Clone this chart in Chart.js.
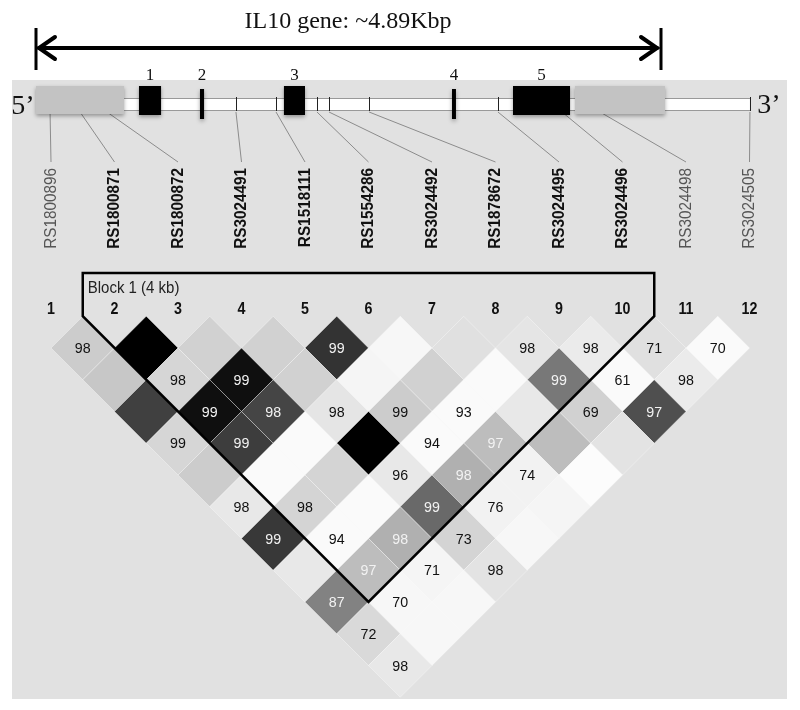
<!DOCTYPE html>
<html><head><meta charset="utf-8">
<script src="https://cdn.jsdelivr.net/npm/chart.js@4/dist/chart.umd.min.js"></script>
<style>html,body{margin:0;padding:0;background:#fff}#wrap{width:800px;height:710px;position:relative}</style>
</head><body><div id="wrap"><canvas id="c"></canvas></div>
<script>
// ---------- DATA ----------
const geneTitle = 'IL10 gene: ~4.89Kbp';
const geneLengthBp = 4890;
const transcriptEndBp = 5595;
const snpNames = ['RS1800896','RS1800871','RS1800872','RS3024491','RS1518111','RS1554286',
                  'RS3024492','RS1878672','RS3024495','RS3024496','RS3024498','RS3024505'];
const markerLabels = ['1','2','3','4','5','6','7','8','9','10','11','12'];
const snpGenePos = [110, 345, 556, 1567, 1881, 2202, 2296, 2610, 3620, 4122, 4420, 5595]; // bp
const exonLabels = ['1','2','3','4','5'];
const exonStart = [807, 1285, 1943, 3260, 3738];
const exonEnd   = [980, 1317, 2108, 3291, 4185];
const utrStart = [0, 4224];
const utrEnd   = [690, 4929];
const blockStart = 2, blockEnd = 10;
const blockLabel = 'Block 1 (4 kb)';
// D' values, row k holds pairs (i, i+k+1) for i = 1..
const ldDprime = [
  [98, null, null, null, 99, null, null, 98, 98, 71, 70],
  [null, 98, 99, null, null, null, null, 99, 61, 98],
  [null, 99, 98, 98, 99, 93, null, 69, 97],
  [99, 99, null, null, 94, 97, null, null],
  [null, null, null, 96, 98, 74, null],
  [98, 98, null, 99, 76, null],
  [99, 94, 98, 73, null],
  [null, 97, 71, 98],
  [87, 70, null],
  [72, null],
  [98]
];
// LD shading level per pair (0 = black, 100 = white), same layout
const ldShade = [
  [80, 0, 82, 82, 20, 97, 88, 90, 92, 88, 98],
  [78, 84, 6, 82, 96, 82, 98, 47, 98, 92],
  [25, 6, 27, 90, 80, 98, 91, 82, 31],
  [84, 24, 98, 0, 98, 74, 74, 89],
  [80, 98, 83, 91, 69, 95, 99],
  [91, 83, 98, 41, 95, 96],
  [22, 98, 69, 83, 97],
  [91, 74, 96, 89],
  [51, 97, 97],
  [85, 97],
  [91]
];

// ---------- BUILD ----------
const pts = [], fills = [], labels = [], tcols = [];
ldDprime.forEach((row, k) => {
  const d = k + 1;
  row.forEach((v, idx) => {
    const i = idx + 1, j = i + d;
    pts.push({x: (i + j) / 2, y: d});
    const g = Math.round(ldShade[k][idx] * 2.55);
    fills.push(`rgb(${g},${g},${g})`);
    labels.push(v == null ? '' : String(v));
    tcols.push(ldShade[k][idx] < 78 ? '#f2f2f2' : '#111');
  });
});

const SANS = '"Liberation Sans", Arial, sans-serif';
const SERIF = '"Liberation Serif", "Times New Roman", serif';

function txt(ctx, s, x, y, font, color, align, sx, sy, rot) {
  ctx.save();
  ctx.translate(x, y);
  if (rot) ctx.rotate(rot);
  ctx.scale(sx || 1, sy || 1);
  ctx.font = font; ctx.fillStyle = color;
  ctx.textAlign = align || 'center'; ctx.textBaseline = 'middle';
  ctx.fillText(s, 0, 0);
  ctx.restore();
}

const decor = {
  id: 'decor',
  beforeDatasetsDraw(chart) {
    const ctx = chart.ctx, X = chart.scales.x, G = chart.scales.gx;
    ctx.save();
    ctx.fillStyle = '#fff'; ctx.fillRect(0, 0, chart.width, chart.height);
    ctx.fillStyle = '#e1e1e1'; ctx.fillRect(12, 80, 775, 619);

    // title and arrow
    const a0 = G.getPixelForValue(0), a1 = G.getPixelForValue(geneLengthBp);
    txt(ctx, geneTitle, (a0 + a1) / 2, 22, '24px ' + SERIF, '#111');
    ctx.strokeStyle = '#000'; ctx.lineCap = 'round';
    ctx.lineWidth = 4;
    ctx.beginPath(); ctx.moveTo(a0 + 3, 48); ctx.lineTo(a1 - 3, 48); ctx.stroke();
    ctx.beginPath();
    ctx.moveTo(a0 + 19, 37); ctx.lineTo(a0 + 3, 48); ctx.lineTo(a0 + 19, 59);
    ctx.moveTo(a1 - 19, 37); ctx.lineTo(a1 - 3, 48); ctx.lineTo(a1 - 19, 59);
    ctx.stroke();
    ctx.lineWidth = 3; ctx.lineCap = 'butt';
    ctx.beginPath(); ctx.moveTo(a0, 28); ctx.lineTo(a0, 70); ctx.moveTo(a1 + 1, 28); ctx.lineTo(a1 + 1, 70); ctx.stroke();

    // gene bar
    const gEnd = G.getPixelForValue(transcriptEndBp);
    ctx.fillStyle = '#fff'; ctx.fillRect(a0, 98, gEnd - a0, 12);
    ctx.strokeStyle = '#999'; ctx.lineWidth = 1;
    ctx.strokeRect(a0 + 0.5, 98.5, gEnd - a0, 12);
    txt(ctx, '5\u2019', 23, 107, '28px ' + SERIF, '#111');
    txt(ctx, '3\u2019', 769, 106, '28px ' + SERIF, '#111');

    // SNP ticks on gene
    ctx.strokeStyle = '#222'; ctx.lineWidth = 1;
    snpGenePos.forEach(p => {
      const px = Math.round(G.getPixelForValue(p)) + 0.5;
      ctx.beginPath(); ctx.moveTo(px, 97); ctx.lineTo(px, 111); ctx.stroke();
    });
    // connector lines
    ctx.strokeStyle = '#8c8c8c';
    snpGenePos.forEach((p, k) => {
      ctx.beginPath();
      ctx.moveTo(G.getPixelForValue(p), 112);
      ctx.lineTo(X.getPixelForValue(k + 1), 162);
      ctx.stroke();
    });

    // UTR boxes and exons
    ctx.save();
    ctx.shadowColor = 'rgba(0,0,0,0.35)'; ctx.shadowBlur = 4; ctx.shadowOffsetY = 2;
    ctx.fillStyle = '#c3c3c3';
    utrStart.forEach((s, k) => {
      const x0 = G.getPixelForValue(s), x1 = G.getPixelForValue(utrEnd[k]);
      ctx.fillRect(x0, 86, x1 - x0, 28);
    });
    ctx.fillStyle = '#000';
    exonStart.forEach((s, k) => {
      const x0 = G.getPixelForValue(s), x1 = G.getPixelForValue(exonEnd[k]);
      const w = x1 - x0;
      if (w < 8) ctx.fillRect(x0, 89, w, 30);
      else ctx.fillRect(x0, 86, w, 29);
    });
    ctx.restore();
    exonStart.forEach((s, k) => {
      const xc = (G.getPixelForValue(s) + G.getPixelForValue(exonEnd[k])) / 2;
      txt(ctx, exonLabels[k], xc, 76, '17px ' + SERIF, '#111');
    });

    // SNP names (rotated)
    snpNames.forEach((n, k) => {
      const inBlock = (k + 1) >= blockStart && (k + 1) <= blockEnd;
      txt(ctx, n, X.getPixelForValue(k + 1), 168,
          (inBlock ? 'bold ' : '') + '17px ' + SANS, inBlock ? '#111' : '#555',
          'right', 0.9, 1, -Math.PI / 2);
    });
    // marker numbers
    markerLabels.forEach((m, k) => {
      txt(ctx, m, X.getPixelForValue(k + 1), 310, 'bold 15px ' + SANS, '#111', 'center', 0.95, 1.05);
    });
    ctx.restore();
  },
  afterDatasetsDraw(chart) {
    const ctx = chart.ctx, X = chart.scales.x, Y = chart.scales.y;
    const meta = chart.getDatasetMeta(0);
    ctx.save();
    meta.data.forEach((el, k) => {
      if (labels[k]) txt(ctx, labels[k], el.x, el.y + 1, '15px ' + SANS, tcols[k], 'center', 0.95, 1.02);
    });
    // block outline
    const xl = X.getPixelForValue(blockStart - 0.5), xr = X.getPixelForValue(blockEnd + 0.5);
    const ytop = 273;
    const yEdge = Y.getPixelForValue(0);
    const ax = X.getPixelForValue((blockStart + blockEnd) / 2), ay = Y.getPixelForValue(blockEnd - blockStart + 1);
    ctx.strokeStyle = '#000'; ctx.lineWidth = 2.5; ctx.lineJoin = 'miter';
    ctx.beginPath();
    ctx.moveTo(xl, ytop); ctx.lineTo(xl, yEdge); ctx.lineTo(ax, ay); ctx.lineTo(xr, yEdge); ctx.lineTo(xr, ytop);
    ctx.closePath(); ctx.stroke();
    txt(ctx, blockLabel, xl + 5, 289, '15px ' + SANS, '#222', 'left', 1, 1.05);
    ctx.restore();
  }
};

new Chart(document.getElementById('c'), {
  type: 'scatter',
  data: { datasets: [{
    data: pts, pointStyle: 'rectRot', pointRadius: 31.75, pointHoverRadius: 31.75,
    backgroundColor: fills, borderColor: 'rgba(255,255,255,0.35)', borderWidth: 1
  }]},
  options: {
    responsive: true, maintainAspectRatio: false, animation: false, events: [],
    layout: { padding: 0, autoPadding: false },
    plugins: { legend: { display: false }, tooltip: { enabled: false } },
    scales: {
      x: { type: 'linear', min: 1 - 51 / 63.5, max: 1 + 749 / 63.5, display: false },
      y: { type: 'linear', min: 1 - 348 / 31.75, max: 1 + 362 / 31.75, reverse: true, display: false },
      gx: { type: 'linear', axis: 'x', min: -36 * geneLengthBp / 624, max: 764 * geneLengthBp / 624, display: false }
    }
  },
  plugins: [decor]
});
</script>
</body></html>
